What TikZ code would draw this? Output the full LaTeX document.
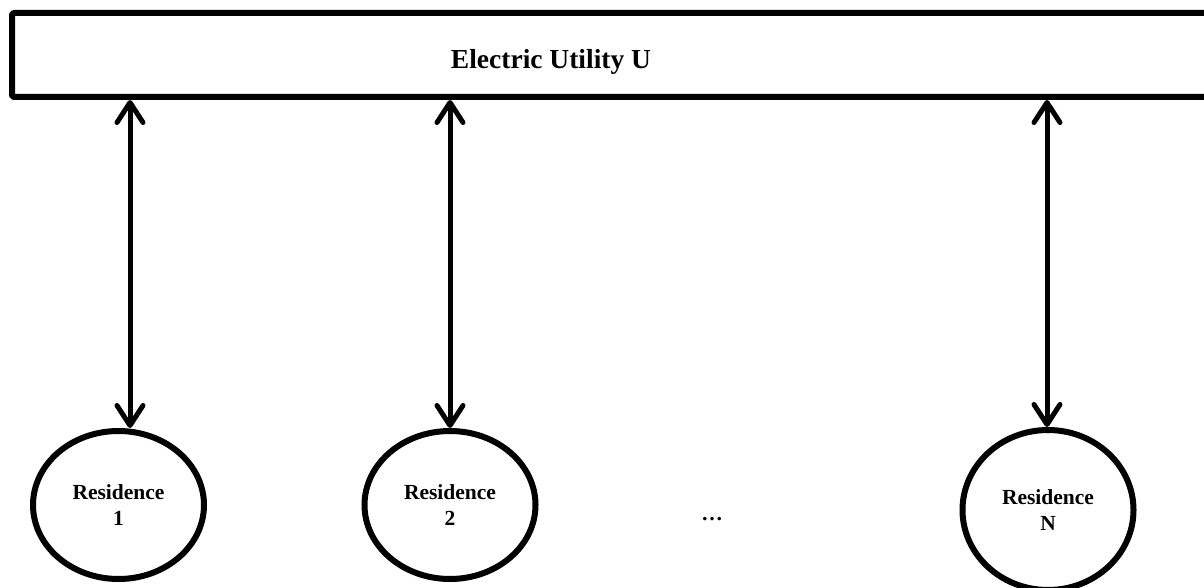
\documentclass[tikz,border=0pt]{standalone}
\usepackage{fontspec}
\setmainfont{Liberation Serif}
\usetikzlibrary{arrows.meta,shapes.geometric}
\begin{document}
\begin{tikzpicture}[x=1pt,y=-1pt,
  utilbox/.style={draw, line width=6pt, rounded corners=1.5pt, line join=round,
    minimum width=1203pt, minimum height=84pt, inner sep=0pt, outer sep=0pt, anchor=north west},
  res/.style={draw, ellipse, line width=6pt, inner sep=0pt, outer sep=0pt, align=center,
    font=\fontsize{21.5}{26}\selectfont\bfseries},
  link/.style={line width=5pt, {Straight Barb[length=20pt,width=26pt,round]}-{Straight Barb[length=20pt,width=26pt,round]},
    shorten >=3pt, shorten <=3pt},
  titletext/.style={font=\fontsize{27.5}{30}\selectfont\bfseries, anchor=base},
]
\useasboundingbox (0,0) rectangle (1204,588);
\clip (0,0) rectangle (1204,588);

\node[utilbox] (util) at (12,13) {};
\node[titletext] (title) at (551,68.5) {Electric Utility U};

\node[res, minimum width=171pt, minimum height=148pt] (c1) at (118.5,505) {Residence\\1};
\node[res, minimum width=171pt, minimum height=148pt] (c2) at (450,505) {Residence\\2};
\node[res, minimum width=171pt, minimum height=160pt] (cN) at (1048,510) {Residence\\N};

\node[font=\fontsize{21.5}{25}\selectfont\bfseries, anchor=base] (dots) at (712,520) {\dots};

\coordinate (a1) at (130,0);
\coordinate (a2) at (450,0);
\coordinate (aN) at (1047,0);

\draw[link] (a1 |- util.south) -- (a1 |- c1.north);
\draw[link] (a2 |- util.south) -- (a2 |- c2.north);
\draw[link] (aN |- util.south) -- (aN |- cN.north);
\end{tikzpicture}
\end{document}
